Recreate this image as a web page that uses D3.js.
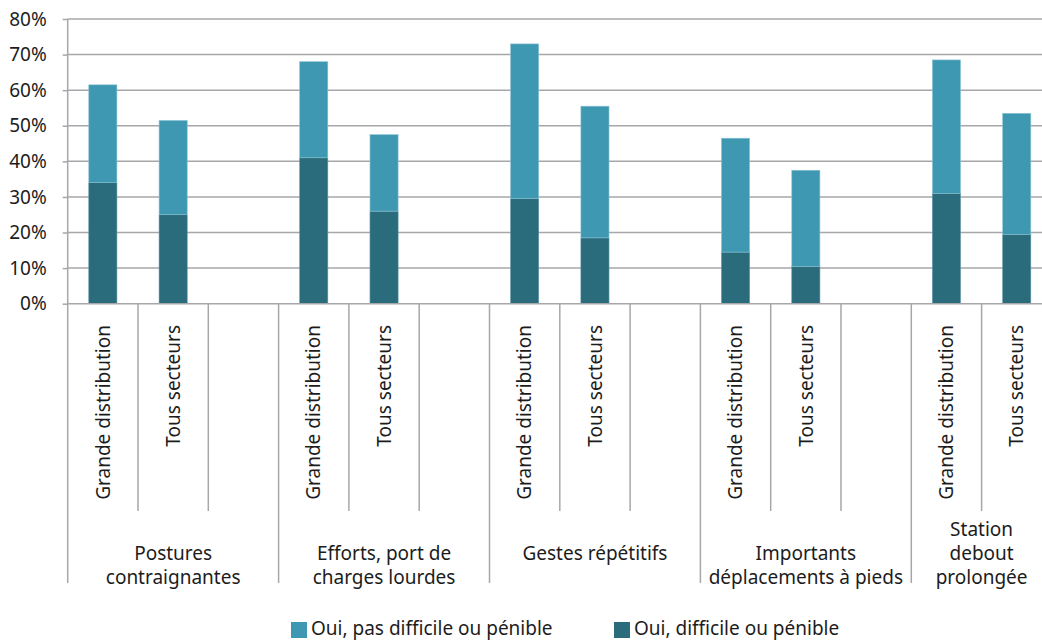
<!DOCTYPE html>
<html lang="fr">
<head>
<meta charset="utf-8">
<script src="https://cdn.jsdelivr.net/npm/d3@7"></script>
<style>
  html, body { margin: 0; padding: 0; background: #fff; }
  svg { display: block; font-family: "Noto Sans", Lato, sans-serif; }
</style>
</head>
<body>
<svg id="chart" width="1042" height="640"></svg>
<script>
// Exposition aux contraintes physiques : grande distribution vs tous secteurs
const groups = [
  ["Postures", "contraignantes"],
  ["Efforts, port de", "charges lourdes"],
  ["Gestes répétitifs"],
  ["Importants", "déplacements à pieds"],
  ["Station", "debout", "prolongée"]
];
const sectors = ["Grande distribution", "Tous secteurs"];
// valeurs en %, dans l'ordre groupe x secteur
const difficile    = [34, 25, 41, 26, 29.5, 18.5, 14.5, 10.5, 31, 19.5];
const pasDifficile = [27.5, 26.5, 27, 21.5, 43.5, 37, 32, 27, 37.5, 34];
const seriesNames = ["Oui, pas difficile ou pénible", "Oui, difficile ou pénible"];
const yTicks = [0, 10, 20, 30, 40, 50, 60, 70, 80];

const colLight = "#3f98b2";
const colDark = "#2a6b7c";
const gridCol = "#a7a7ab";
const textCol = "#1c1c1c";
const fs = 19;

const svg = d3.select("#chart");

// Emplacements : deux secteurs + un vide par groupe (pas de vide après le dernier)
const slots = [];
groups.forEach((g, gi) => {
  sectors.forEach((s, si) => slots.push({ key: `g${gi}s${si}`, gi, si, label: s }));
  if (gi < groups.length - 1) slots.push({ key: `g${gi}gap`, gi, si: -1, label: "" });
});

const x0 = 67.7, slotW = 70.3;
const x = d3.scaleBand()
  .domain(slots.map(d => d.key))
  .range([x0, x0 + slotW * slots.length])
  .padding(0);
const y = d3.scaleLinear().domain([0, 80]).range([303.7, 19]);

// Grille horizontale
svg.append("g").selectAll("line").data(yTicks.slice(1)).join("line")
  .attr("x1", x0).attr("x2", 1042)
  .attr("y1", d => y(d)).attr("y2", d => y(d))
  .attr("stroke", gridCol).attr("stroke-width", 1.5);

// Axe vertical
const yAxis = d3.axisLeft(y).tickValues(yTicks).tickSize(5).tickPadding(16)
  .tickFormat(d => d + "%");
const ya = svg.append("g").attr("transform", `translate(${x0},0)`).call(yAxis);
ya.select(".domain").remove();
ya.selectAll(".tick line").attr("stroke", gridCol).attr("stroke-width", 1.5);
ya.selectAll(".tick text").attr("font-size", fs).attr("fill", textCol)
  .attr("font-family", "'Noto Sans', sans-serif");

// Barres empilées
const barData = slots.filter(d => d.si >= 0).map((d, i) => ({
  ...d, dark: difficile[i], light: pasDifficile[i]
}));
const bw = x.bandwidth() * 0.4;
const bars = svg.append("g");
bars.selectAll("rect.dark").data(barData).join("rect")
  .attr("class", "dark")
  .attr("x", d => x(d.key) + (x.bandwidth() - bw) / 2)
  .attr("width", bw)
  .attr("y", d => y(d.dark))
  .attr("height", d => y(0) - y(d.dark))
  .attr("fill", colDark)
  .attr("stroke", "#5f97a6").attr("stroke-width", 0.6);
bars.selectAll("rect.light").data(barData).join("rect")
  .attr("class", "light")
  .attr("x", d => x(d.key) + (x.bandwidth() - bw) / 2)
  .attr("width", bw)
  .attr("y", d => y(d.dark + d.light))
  .attr("height", d => y(d.dark) - y(d.dark + d.light))
  .attr("fill", colLight)
  .attr("stroke", "#8cc3d3").attr("stroke-width", 0.6);

// Axe horizontal (ligne 0 %) et axe vertical
svg.append("line").attr("x1", x0).attr("x2", 1042)
  .attr("y1", y(0)).attr("y2", y(0))
  .attr("stroke", gridCol).attr("stroke-width", 1.5);
svg.append("line").attr("x1", x0).attr("x2", x0)
  .attr("y1", y(80)).attr("y2", 583)
  .attr("stroke", gridCol).attr("stroke-width", 1.5);

// Séparateurs de catégories
const boundaries = [];
slots.forEach((d, i) => {
  if (i === 0) return;
  const groupStart = d.gi !== slots[i - 1].gi;
  boundaries.push({ x: x(d.key), long: groupStart });
});
svg.append("g").selectAll("line").data(boundaries).join("line")
  .attr("x1", d => d.x).attr("x2", d => d.x)
  .attr("y1", y(0)).attr("y2", d => d.long ? 583 : 511)
  .attr("stroke", gridCol).attr("stroke-width", 1.5);

// Libellés des secteurs (verticaux)
svg.append("g").selectAll("text").data(barData).join("text")
  .attr("transform", d => `translate(${x(d.key) + x.bandwidth() / 2},325) rotate(-90)`)
  .attr("text-anchor", "end")
  .attr("dy", "0.35em")
  .attr("font-size", fs).attr("fill", textCol)
  .text(d => d.label);

// Libellés des groupes
const groupCenters = groups.map((g, gi) => {
  const own = slots.filter(s => s.gi === gi);
  const left = x(own[0].key);
  const right = x(own[own.length - 1].key) + x.bandwidth();
  return (left + right) / 2;
});
const gl = svg.append("g").selectAll("text").data(groups).join("text")
  .attr("text-anchor", "middle")
  .attr("font-size", fs).attr("fill", textCol);
gl.each(function (lines, gi) {
  const n = lines.length;
  const firstY = n === 1 ? 553 : 577 - (n - 1) * 24;
  d3.select(this).selectAll("tspan").data(lines).join("tspan")
    .attr("x", groupCenters[gi])
    .attr("y", (l, li) => firstY + li * 24)
    .attr("dy", "0.35em")
    .text(l => l);
});

// Légende
const legend = [
  { name: seriesNames[0], color: colLight, x: 291 },
  { name: seriesNames[1], color: colDark, x: 614 }
];
const lg = svg.append("g").selectAll("g").data(legend).join("g")
  .attr("transform", d => `translate(${d.x},622)`);
lg.append("rect").attr("width", 16).attr("height", 16).attr("fill", d => d.color);
lg.append("text").attr("x", 20).attr("y", 13)
  .attr("font-size", 19).attr("fill", textCol)
  .text(d => d.name);
</script>
</body>
</html>
